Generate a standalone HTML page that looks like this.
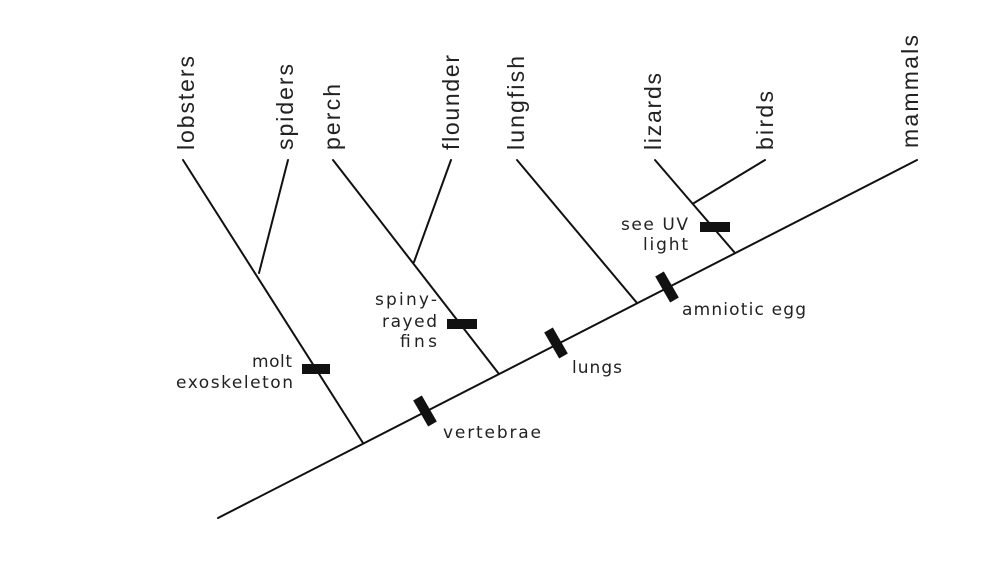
<!DOCTYPE html>
<html><head><meta charset="utf-8"><style>
html,body{margin:0;padding:0;background:#fff;}
svg{display:block;}
.t{font-family:"Liberation Sans",sans-serif;font-size:23px;fill:#222;}
.s{font-family:"DejaVu Sans","Liberation Sans",sans-serif;font-size:17px;fill:#222;}
</style></head><body>
<svg width="998" height="574" viewBox="0 0 998 574" xmlns="http://www.w3.org/2000/svg">
<g stroke="#111" stroke-width="2" fill="none" stroke-linecap="round">
<line x1="218" y1="518" x2="917" y2="160"/>
<line x1="183" y1="160" x2="363" y2="443"/>
<line x1="288" y1="160" x2="259" y2="273"/>
<line x1="333" y1="160" x2="499" y2="374"/>
<line x1="451" y1="160" x2="414" y2="262"/>
<line x1="517" y1="160" x2="637" y2="303"/>
<line x1="655" y1="160" x2="735" y2="253"/>
<line x1="765" y1="160" x2="694" y2="203"/>
</g>
<g fill="#111">
<rect x="302" y="364" width="28" height="10"/>
<rect x="447" y="319" width="30" height="10"/>
<rect x="700" y="222" width="30" height="10"/>
<rect x="-15" y="-5" width="30" height="10" transform="translate(425,411) rotate(60)"/>
<rect x="-15" y="-5" width="30" height="10" transform="translate(556,343) rotate(60)"/>
<rect x="-15" y="-5" width="30" height="10" transform="translate(667,287) rotate(60)"/>
</g>
<g class="t">
<text transform="translate(194,150) rotate(-90)" textLength="94">lobsters</text>
<text transform="translate(293,150) rotate(-90)" textLength="86">spiders</text>
<text transform="translate(340,150) rotate(-90)" textLength="66">perch</text>
<text transform="translate(459,150) rotate(-90)" textLength="95">flounder</text>
<text transform="translate(524,150) rotate(-90)" textLength="94">lungfish</text>
<text transform="translate(661,150) rotate(-90)" textLength="77">lizards</text>
<text transform="translate(773,150) rotate(-90)" textLength="59">birds</text>
<text transform="translate(918,148) rotate(-90)" textLength="113">mammals</text>
</g>
<g class="s">
<text x="292" y="367" text-anchor="end" textLength="40">molt</text>
<text x="293" y="388" text-anchor="end" textLength="117">exoskeleton</text>
<text x="437" y="305" text-anchor="end" textLength="62">spiny-</text>
<text x="437" y="327" text-anchor="end" textLength="55">rayed</text>
<text x="437" y="347" text-anchor="end" textLength="37">fins</text>
<text x="443" y="438" textLength="98">vertebrae</text>
<text x="572" y="373" textLength="50">lungs</text>
<text x="682" y="315" textLength="124">amniotic egg</text>
<text x="688" y="230" text-anchor="end" textLength="67">see UV</text>
<text x="688" y="250" text-anchor="end" textLength="45">light</text>
</g>
</svg>
</body></html>
